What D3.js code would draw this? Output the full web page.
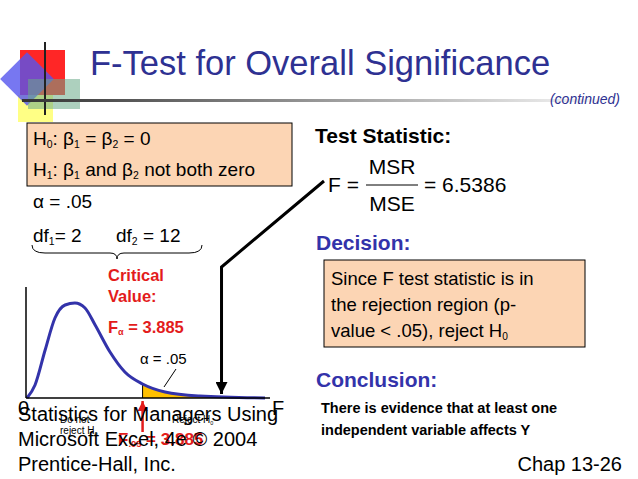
<!DOCTYPE html>
<html>
<head>
<meta charset="utf-8">
<script src="https://cdn.jsdelivr.net/npm/d3@7"></script>
<style>
  body { margin: 0; background: #fff; }
  text { font-family: Arial, "Liberation Sans", sans-serif; }
</style>
</head>
<body>
<svg id="slide" width="638" height="479"></svg>
<script>
// F curve (F value, relative density)
var curveF = [0, 0.27, 0.61, 0.94, 1.28, 1.61, 1.95, 2.29, 2.79, 3.29, 3.885, 4.64, 5.81, 8];
var curveD = [0, 0.13, 0.48, 0.80, 0.93, 0.95, 0.90, 0.73, 0.46, 0.26, 0.14, 0.06, 0.02, 0.0];
var critical = 3.885;
var testStat = 6.5386;
var alpha = 0.05;

var svg = d3.select('#slide');
var BLUE = '#2e3192';
var RED = '#e31c1c';

// logo decoration
var logo = svg.append('g');
logo.append('rect').attr('x', 20).attr('y', 50).attr('width', 45).attr('height', 45).attr('fill', '#ff0000').attr('opacity', 0.85);
logo.append('rect').attr('x', 18).attr('y', 95).attr('width', 35).attr('height', 27).attr('fill', '#ffff66').attr('opacity', 0.8);
logo.append('rect').attr('x', 8).attr('y', 60).attr('width', 38).attr('height', 38).attr('fill', '#5555ee').attr('opacity', 0.8)
  .attr('transform', 'rotate(45 27 79)');
logo.append('rect').attr('x', 28).attr('y', 79).attr('width', 52).attr('height', 30).attr('fill', '#6aaa88').attr('opacity', 0.55);
logo.append('line').attr('x1', 45).attr('x2', 45).attr('y1', 42).attr('y2', 115).attr('stroke', '#222').attr('stroke-width', 2);

var grad = svg.append('defs').append('linearGradient').attr('id', 'hl');
grad.append('stop').attr('offset', '0%').attr('stop-color', '#333');
grad.append('stop').attr('offset', '100%').attr('stop-color', '#fff');
svg.append('rect').attr('x', 22).attr('y', 99).attr('width', 600).attr('height', 3).attr('fill', 'url(#hl)');

svg.append('text').attr('x', 90).attr('y', 75).attr('font-size', 34.5).attr('fill', BLUE).text('F-Test for Overall Significance');
svg.append('text').attr('x', 620).attr('y', 104).attr('text-anchor', 'end').attr('font-size', 14)
  .attr('font-style', 'italic').attr('fill', BLUE).text('(continued)');

// text with subscripts: parts = [[string, isSub]]
function sub(t, parts, size) {
  parts.forEach(function (p) {
    var s = t.append('tspan').text(p[0]);
    if (p[1]) s.attr('font-size', size * 0.55).attr('baseline-shift', '-25%');
  });
}

// hypothesis box
svg.append('rect').attr('x', 27).attr('y', 123).attr('width', 265).attr('height', 63).attr('fill', '#fcd5b4').attr('stroke', '#000');
sub(svg.append('text').attr('x', 33).attr('y', 145).attr('font-size', 19),
  [['H'], ['0', 1], [': β'], ['1', 1], [' = β'], ['2', 1], [' = 0']], 19);
sub(svg.append('text').attr('x', 33).attr('y', 176).attr('font-size', 19),
  [['H'], ['1', 1], [': β'], ['1', 1], [' and β'], ['2', 1], [' not both zero']], 19);
svg.append('text').attr('x', 33).attr('y', 208).attr('font-size', 19).text('α = ' + d3.format('.2f')(alpha).replace(/^0/, ''));
sub(svg.append('text').attr('x', 33).attr('y', 242).attr('font-size', 19), [['df'], ['1', 1], ['= 2']], 19);
sub(svg.append('text').attr('x', 116).attr('y', 242).attr('font-size', 19), [['df'], ['2', 1], [' = 12']], 19);
svg.append('path').attr('d', 'M32,245 Q32,253 45,253 L110,253 Q117,253 117,259 Q117,253 124,253 L189,253 Q202,253 202,245')
  .attr('fill', 'none').attr('stroke', '#000');

svg.append('text').attr('x', 108).attr('y', 281).attr('font-size', 16.5).attr('font-weight', 'bold').attr('fill', RED).text('Critical');
svg.append('text').attr('x', 108).attr('y', 302).attr('font-size', 16.5).attr('font-weight', 'bold').attr('fill', RED).text('Value:');
sub(svg.append('text').attr('x', 108).attr('y', 333).attr('font-size', 16.5).attr('font-weight', 'bold').attr('fill', RED),
  [['F'], ['α', 1], [' = ' + critical]], 16.5);

// chart
var x = d3.scaleLinear().domain([0, 8]).range([27, 265]);
var y = d3.scaleLinear().domain([0, 1]).range([398, 298]);
var pts = curveF.map(function (f, i) { return [f, curveD[i]]; });
var line = d3.line().x(function (d) { return x(d[0]); }).y(function (d) { return y(d[1]); }).curve(d3.curveMonotoneX);
var area = d3.area().x(function (d) { return x(d[0]); }).y0(y(0)).y1(function (d) { return y(d[1]); }).curve(d3.curveMonotoneX);
var tail = pts.filter(function (d) { return d[0] >= critical; });
svg.append('path').attr('d', area(tail)).attr('fill', '#ffc000');
svg.append('line').attr('x1', x(critical)).attr('x2', x(critical)).attr('y1', y(0)).attr('y2', y(0.14)).attr('stroke', '#000');
svg.append('path').attr('d', line(pts)).attr('fill', 'none').attr('stroke', '#3333aa').attr('stroke-width', 3);
svg.append('line').attr('x1', 26).attr('x2', 26).attr('y1', 287).attr('y2', 398).attr('stroke', '#000').attr('stroke-width', 1.5);
svg.append('line').attr('x1', 26).attr('x2', 270).attr('y1', 398).attr('y2', 398).attr('stroke', '#000').attr('stroke-width', 1.5);

svg.append('text').attr('x', 140).attr('y', 364).attr('font-size', 15).text('α = .05');
svg.append('line').attr('x1', 176).attr('y1', 369).attr('x2', 164).attr('y2', 387).attr('stroke', '#000');

var defs = svg.append('defs');
defs.append('marker').attr('id', 'ah').attr('viewBox', '0 0 10 10').attr('refX', 10).attr('refY', 5)
  .attr('markerWidth', 4).attr('markerHeight', 4).attr('orient', 'auto')
  .append('path').attr('d', 'M0,0L10,5L0,10z').attr('fill', '#000');
defs.append('marker').attr('id', 'ahr').attr('viewBox', '0 0 10 10').attr('refX', 10).attr('refY', 5)
  .attr('markerWidth', 4).attr('markerHeight', 4).attr('orient', 'auto')
  .append('path').attr('d', 'M0,0L10,5L0,10z').attr('fill', RED);

// big arrow from test statistic to curve
var xs = x(testStat);
svg.append('path').attr('d', 'M324,181 L' + xs + ',267 L' + xs + ',394').attr('fill', 'none')
  .attr('stroke', '#000').attr('stroke-width', 3).attr('marker-end', 'url(#ah)');

// labels under the axis
svg.append('text').attr('x', 18).attr('y', 415).attr('font-size', 20).text('0');
svg.append('text').attr('x', 272).attr('y', 415).attr('font-size', 20).text('F');
svg.append('text').attr('x', 60).attr('y', 423).attr('font-size', 10).text('Do not');
sub(svg.append('text').attr('x', 60).attr('y', 434).attr('font-size', 10), [['reject H'], ['0', 1]], 10);
sub(svg.append('text').attr('x', 172).attr('y', 423).attr('font-size', 10), [['Reject H'], ['0', 1]], 10);
svg.append('line').attr('x1', x(critical)).attr('x2', x(critical)).attr('y1', 432).attr('y2', 401)
  .attr('stroke', RED).attr('stroke-width', 2.5).attr('marker-end', 'url(#ahr)');
sub(svg.append('text').attr('x', 118).attr('y', 445).attr('font-size', 17).attr('font-weight', 'bold').attr('fill', RED),
  [['F'], ['.05', 1], [' = ' + critical]], 17);

// right column
svg.append('text').attr('x', 315).attr('y', 143).attr('font-size', 21).attr('font-weight', 'bold').text('Test Statistic:');
svg.append('text').attr('x', 328).attr('y', 192).attr('font-size', 21).text('F =');
svg.append('text').attr('x', 392).attr('y', 174).attr('font-size', 21).attr('text-anchor', 'middle').text('MSR');
svg.append('line').attr('x1', 366).attr('x2', 418).attr('y1', 185).attr('y2', 185).attr('stroke', '#000');
svg.append('text').attr('x', 392).attr('y', 211).attr('font-size', 21).attr('text-anchor', 'middle').text('MSE');
svg.append('text').attr('x', 424).attr('y', 192).attr('font-size', 21).text('= ' + testStat);

svg.append('text').attr('x', 316).attr('y', 250).attr('font-size', 21).attr('font-weight', 'bold').attr('fill', '#3333aa').text('Decision:');
svg.append('rect').attr('x', 324).attr('y', 260).attr('width', 261).attr('height', 87).attr('fill', '#fcd5b4').attr('stroke', '#000');
svg.append('text').attr('x', 331).attr('y', 285).attr('font-size', 18.5).text('Since F test statistic is in');
svg.append('text').attr('x', 331).attr('y', 311).attr('font-size', 18.5).text('the rejection region (p-');
sub(svg.append('text').attr('x', 331).attr('y', 337).attr('font-size', 18.5), [['value < .05), reject H'], ['0', 1]], 18.5);

svg.append('text').attr('x', 316).attr('y', 387).attr('font-size', 21).attr('font-weight', 'bold').attr('fill', '#3333aa').text('Conclusion:');
svg.append('text').attr('x', 321).attr('y', 413).attr('font-size', 14.5).attr('font-weight', 'bold').text('There is evidence that at least one');
svg.append('text').attr('x', 321).attr('y', 435).attr('font-size', 14.5).attr('font-weight', 'bold').text('independent variable affects Y');

// footer
svg.append('text').attr('x', 18).attr('y', 421).attr('font-size', 20).text('Statistics for Managers Using');
svg.append('text').attr('x', 18).attr('y', 446).attr('font-size', 20).text('Microsoft Excel, 4e © 2004');
svg.append('text').attr('x', 18).attr('y', 471).attr('font-size', 20).text('Prentice-Hall, Inc.');
svg.append('text').attr('x', 622).attr('y', 471).attr('font-size', 20).attr('text-anchor', 'end').text('Chap 13-26');
</script>
</body>
</html>
